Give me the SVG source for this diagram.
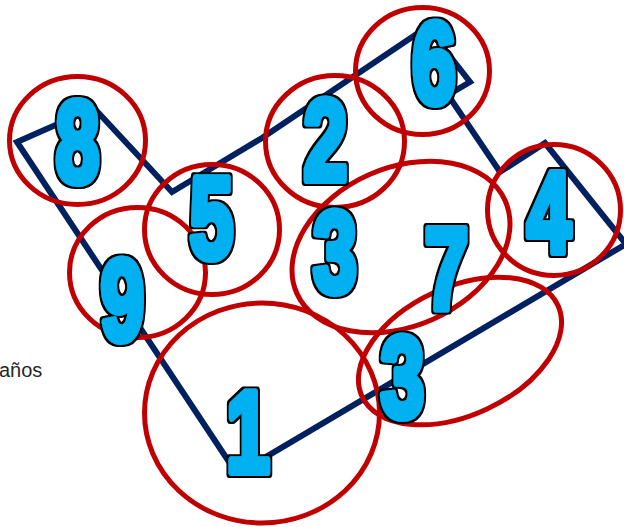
<svg xmlns="http://www.w3.org/2000/svg" width="624" height="527" viewBox="0 0 624 527">
<defs>
<style>
.outline{fill:none;stroke:#002060;stroke-width:6;stroke-linejoin:miter}
.zone{fill:none;stroke:#c00000;stroke-width:5}
.num{font-family:"Liberation Sans",Arial,sans-serif;font-weight:bold;font-size:115px;fill:#00b0f0;stroke:#00b0f0;stroke-width:8;stroke-linejoin:round;text-anchor:middle;filter:url(#ol)}
.note{font-family:"Liberation Sans",Arial,sans-serif;font-size:20px;fill:#262626}
</style>
<filter id="ol" x="-30%" y="-30%" width="160%" height="160%">
<feMorphology in="SourceAlpha" operator="dilate" radius="2.3 1.6" result="d"/>
<feFlood flood-color="#000000"/>
<feComposite in2="d" operator="in" result="k"/>
<feMerge><feMergeNode in="k"/><feMergeNode in="SourceGraphic"/></feMerge>
</filter>
</defs>
<rect width="624" height="527" fill="#ffffff"/>
<g id="connectors">
<polygon class="outline" points="17,142 94,108 172,192 262,138 427,27 470,82 448,95 500,172 545,143 626,244 237,474"/>
</g>
<g id="zones">
<ellipse id="zone-8" class="zone" cx="77.5" cy="140.5" rx="68" ry="64"/>
<ellipse id="zone-9" class="zone" cx="137.5" cy="272.5" rx="68" ry="65"/>
<ellipse id="zone-5" class="zone" cx="212" cy="229.5" rx="67.5" ry="65"/>
<ellipse id="zone-2" class="zone" cx="335" cy="141.5" rx="69.5" ry="66"/>
<ellipse id="zone-6" class="zone" cx="422.5" cy="71" rx="67" ry="63.5"/>
<ellipse id="zone-4" class="zone" cx="554" cy="210" rx="66.5" ry="65.5"/>
<ellipse id="zone-1" class="zone" cx="262" cy="413" rx="117.5" ry="110"/>
<ellipse id="zone-37" class="zone" cx="401" cy="247" rx="114" ry="79" transform="rotate(-24 401 247)"/>
<ellipse id="zone-3b" class="zone" cx="460" cy="351" rx="108" ry="64" transform="rotate(-25 460 351)"/>
</g>
<g id="labels">
<g id="node-8"><text class="num" transform="translate(77.5,181.5) scale(0.68,1)">8</text></g>
<g id="node-6"><text class="num" transform="translate(434,102.5) scale(0.68,1)">6</text></g>
<g id="node-2"><text class="num" transform="translate(325.5,179.5) scale(0.68,1)">2</text></g>
<g id="node-5"><text class="num" transform="translate(211.5,257.5) scale(0.68,1)">5</text></g>
<g id="node-9"><text class="num" transform="translate(122.5,339.5) scale(0.68,1)">9</text></g>
<g id="node-3a"><text class="num" transform="translate(335,291.5) scale(0.68,1)">3</text></g>
<g id="node-7"><text class="num" transform="translate(446.5,307.5) scale(0.68,1)">7</text></g>
<g id="node-4"><text class="num" transform="translate(549,251.5) scale(0.68,1)">4</text></g>
<g id="node-3b"><text class="num" transform="translate(402.5,416.5) scale(0.68,1)">3</text></g>
<g id="node-1"><text class="num" transform="translate(248,471.5) scale(0.68,1)">1</text></g>
</g>
<text class="note" x="-1" y="377">años</text>
</svg>
